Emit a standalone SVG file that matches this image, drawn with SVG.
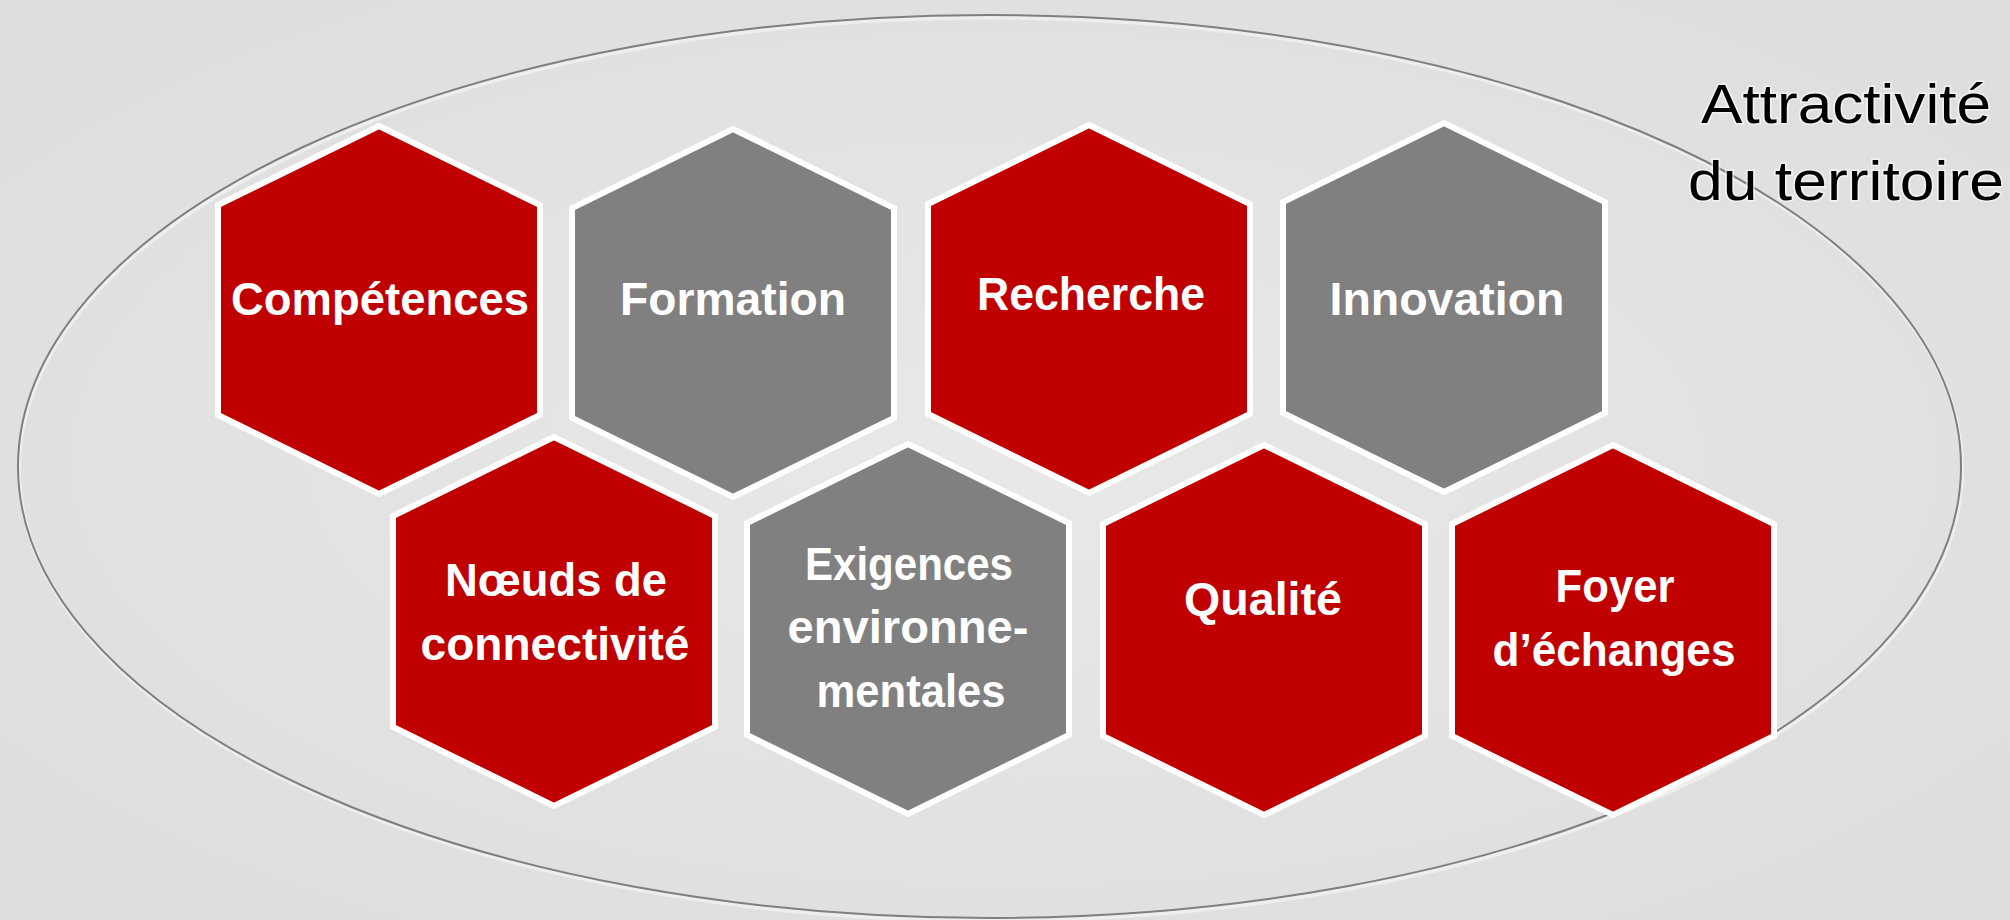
<svg xmlns="http://www.w3.org/2000/svg" width="2010" height="920" viewBox="0 0 2010 920">
<defs>
<radialGradient id="bg" cx="0.5" cy="0.5" r="0.75">
<stop offset="0" stop-color="#E8E8E8"/>
<stop offset="1" stop-color="#DCDCDC"/>
</radialGradient>
<style>
.hex{stroke:#FFFFFF;stroke-width:6;stroke-linejoin:miter}
.red{fill:#C00000}
.gray{fill:#808080}
.lbl{font-family:"Liberation Sans",Arial,sans-serif;font-weight:bold;font-size:47px;fill:#FFFFFF;text-anchor:middle}
.title{font-family:"Liberation Sans",Arial,sans-serif;font-size:55px;fill:#000000;text-anchor:middle;stroke:#FFFFFF;stroke-opacity:0.6;stroke-width:3;paint-order:stroke}
</style>
</defs>
<rect x="0" y="0" width="2010" height="920" fill="url(#bg)"/>
<g id="frame">
<ellipse cx="990.5" cy="469" rx="971.5" ry="451.5" fill="none" stroke="#F4F4F4" stroke-width="4" opacity="0.7"/>
<ellipse cx="989.5" cy="466.5" rx="971.5" ry="451.5" fill="none" stroke="#7F7F7F" stroke-width="2"/>
</g>
<g id="connectors"/>
<g id="competences">
<polygon class="hex red" points="379,126 540,205 540,415 379,494 218,415 218,205"/>
<text class="lbl" x="380" y="315" textLength="298" lengthAdjust="spacingAndGlyphs">Compétences</text>
</g>
<g id="formation">
<polygon class="hex gray" points="733,129 894,208 894,418 733,497 572,418 572,208"/>
<text class="lbl" x="733" y="315" textLength="226" lengthAdjust="spacingAndGlyphs">Formation</text>
</g>
<g id="recherche">
<polygon class="hex red" points="1089,125 1250,204 1250,414 1089,493 928,414 928,204"/>
<text class="lbl" x="1091" y="310" textLength="228" lengthAdjust="spacingAndGlyphs">Recherche</text>
</g>
<g id="innovation">
<polygon class="hex gray" points="1444,123 1605,202 1605,413 1444,492 1283,413 1283,202"/>
<text class="lbl" x="1447" y="315" textLength="235" lengthAdjust="spacingAndGlyphs">Innovation</text>
</g>
<g id="noeuds">
<polygon class="hex red" points="554,437 715,516 715,727 554,806 393,727 393,516"/>
<text class="lbl" x="556" y="596" textLength="222" lengthAdjust="spacingAndGlyphs">Nœuds de</text>
<text class="lbl" x="555" y="660" textLength="269" lengthAdjust="spacingAndGlyphs">connectivité</text>
</g>
<g id="exigences">
<polygon class="hex gray" points="908,444 1069,523 1069,735 908,814 747,735 747,523"/>
<text class="lbl" x="909" y="580" textLength="208" lengthAdjust="spacingAndGlyphs">Exigences</text>
<text class="lbl" x="908" y="643" textLength="241" lengthAdjust="spacingAndGlyphs">environne-</text>
<text class="lbl" x="911" y="707" textLength="189" lengthAdjust="spacingAndGlyphs">mentales</text>
</g>
<g id="qualite">
<polygon class="hex red" points="1264,445 1425,524 1425,736 1264,815 1103,736 1103,524"/>
<text class="lbl" x="1263" y="615" textLength="158" lengthAdjust="spacingAndGlyphs">Qualité</text>
</g>
<g id="foyer">
<polygon class="hex red" points="1613,445 1774,524 1774,736 1613,815 1452,736 1452,524"/>
<text class="lbl" x="1615" y="602" textLength="119" lengthAdjust="spacingAndGlyphs">Foyer</text>
<text class="lbl" x="1614" y="666" textLength="243" lengthAdjust="spacingAndGlyphs">d’échanges</text>
</g>
<g id="title">
<text class="title" x="1846" y="123" textLength="290" lengthAdjust="spacingAndGlyphs">Attractivité</text>
<text class="title" x="1846" y="200" textLength="316" lengthAdjust="spacingAndGlyphs">du territoire</text>
</g>
</svg>
